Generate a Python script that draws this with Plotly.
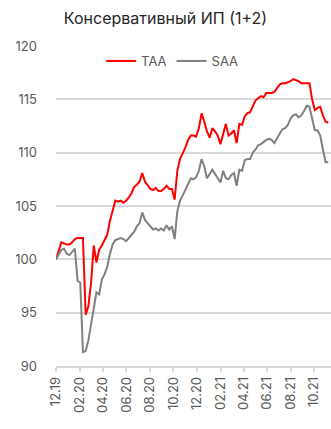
import pandas as pd
import plotly.graph_objects as go

title = "Консервативный ИП (1+2)"
series_names = ["TAA", "SAA"]

taa = [100.0, 100.7, 101.6, 101.5, 101.4, 101.4, 101.6, 101.9, 102.0, 102.0,
       102.0, 94.8, 95.6, 97.8, 101.3, 99.7, 100.9, 101.3, 101.8, 102.3,
       103.6, 104.6, 105.5, 105.4, 105.5, 105.3, 105.5, 105.8, 106.2, 106.8,
       107.0, 107.3, 108.1, 107.3, 107.0, 106.6, 106.5, 106.7, 106.4, 106.4,
       106.6, 106.9, 106.6, 106.6, 105.6, 108.3, 109.4, 109.9, 110.5, 111.2,
       111.6, 111.6, 111.5, 112.3, 113.7, 112.9, 112.0, 111.4, 112.3, 112.0,
       111.6, 110.8, 111.9, 112.7, 111.6, 111.8, 112.1, 110.9, 112.7, 112.6,
       113.4, 113.7, 113.8, 114.4, 114.9, 115.1, 115.3, 115.2, 115.6, 115.6,
       115.6, 115.7, 116.0, 116.4, 116.5, 116.5, 116.6, 116.7, 116.9, 116.8,
       116.7, 116.5, 116.5, 116.5, 116.5, 115.0, 114.0, 114.2, 114.3, 113.5,
       112.9, 112.8]

saa = [100.0, 100.5, 100.9, 101.0, 100.5, 100.4, 100.7, 101.0, 98.0, 97.8,
       91.3, 91.4, 92.4, 93.9, 95.5, 96.9, 96.7, 98.1, 98.6, 99.3,
       100.5, 101.4, 101.8, 101.9, 102.0, 101.9, 101.7, 102.0, 102.3, 102.6,
       103.1, 103.4, 104.4, 103.7, 103.4, 103.1, 102.8, 102.9, 102.7, 102.9,
       102.7, 103.2, 102.8, 103.1, 101.9, 104.5, 105.5, 106.0, 106.5, 107.0,
       107.6, 107.5, 107.7, 108.3, 109.4, 108.7, 107.6, 108.0, 108.4, 108.0,
       107.6, 107.2, 108.3, 107.6, 107.5, 107.9, 108.1, 106.9, 108.4, 108.3,
       109.3, 109.4, 109.4, 110.0, 110.3, 110.7, 110.8, 111.0, 111.2, 111.3,
       111.2, 110.9, 111.4, 111.8, 112.2, 112.3, 112.6, 113.2, 113.5, 113.6,
       113.3, 113.5, 113.9, 114.4, 114.3, 113.2, 112.1, 112.1, 111.6, 110.3,
       109.1, 109.1]

dates = pd.date_range("2019-12-01", periods=len(taa), freq="7D")
y_ticks = [90, 95, 100, 105, 110, 115, 120]

fig = go.Figure()
fig.add_trace(go.Scatter(x=dates, y=taa, mode="lines", name=series_names[0],
                         line=dict(color="#ff0000", width=2)))
fig.add_trace(go.Scatter(x=dates, y=saa, mode="lines", name=series_names[1],
                         line=dict(color="#808080", width=2)))

font_family = "Inter"
fig.update_layout(
    width=331, height=429,
    margin=dict(l=56, r=0, t=46, b=63, autoexpand=False),
    paper_bgcolor="white", plot_bgcolor="white",
    font=dict(family=font_family, size=13, color="#595959"),
    title=dict(text=title, x=0.5, xref="container", xanchor="center",
               y=1 - 18 / 429, yref="container", yanchor="middle",
               font=dict(family=font_family, size=16, color="#262626")),
    legend=dict(orientation="h", x=0.52, xref="container", xanchor="center",
                y=1 - 61 / 429, yref="container", yanchor="middle",
                font=dict(size=13, color="#595959"), itemwidth=30,
                bgcolor="rgba(0,0,0,0)"),
    showlegend=True,
)
fig.update_xaxes(
    type="date", range=["2019-12-01", "2021-11-14"],
    tick0="2019-12-01", dtick="M2", tickformat="%m.%y", tickangle=-90,
    showgrid=False, showline=True, linecolor="#d9d9d9", linewidth=1.5,
    ticks="outside", ticklen=4, tickcolor="#d9d9d9", tickwidth=1.5,
    tickfont=dict(size=13, color="#595959"), zeroline=False,
)
fig.update_yaxes(
    range=[90, 120], tickvals=y_ticks, showgrid=True, gridcolor="#d9d9d9",
    gridwidth=1.5, zeroline=False, showline=False, ticks="",
    ticklabelstandoff=18, tickfont=dict(size=13, color="#595959"),
)

fig.write_html("out.html")
